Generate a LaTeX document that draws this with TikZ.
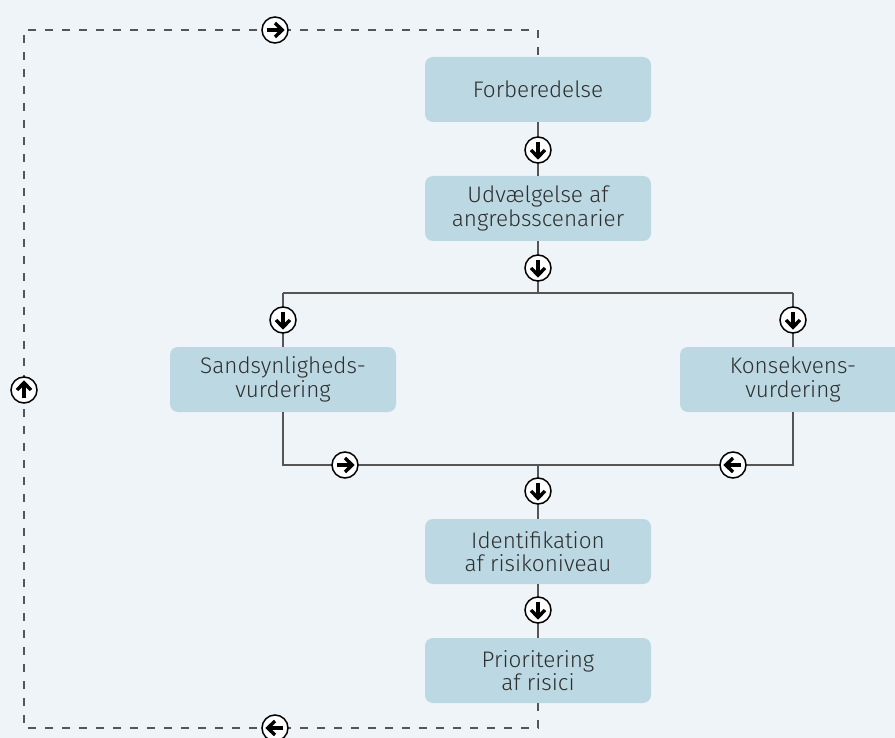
\documentclass[tikz,border=0pt]{standalone}
\usepackage{fontspec}
\setmainfont{Fira Sans}[UprightFont={* Light}]
\definecolor{bg}{HTML}{EFF4F8}
\definecolor{boxc}{HTML}{BCD8E2}
\definecolor{txt}{HTML}{2E2E2E}
\definecolor{ln}{HTML}{555555}
\tikzset{
  stepbox/.style={rectangle, rounded corners=8pt, fill=boxc, minimum width=226pt, minimum height=65pt, align=center, text=txt, font=\fontsize{22.5}{23.5}\selectfont, inner sep=0pt},
  conn/.style={draw=ln, line width=1.2pt},
  loopline/.style={draw=ln, line width=1.1pt, dash pattern=on 8pt off 9pt},
  circ/.style={circle, draw=black, fill=white, line width=1.5pt, minimum size=26pt, inner sep=0pt},
  pics/arrowsym/.style={code={
    \draw[line width=3.4pt, rotate=#1] (-8,0) -- (6.5,0);
    \draw[line width=3.4pt, rotate=#1, line join=miter, line cap=butt] (0,-7) -- (7.2,0) -- (0,7);
  }}
}
\begin{document}
\begin{tikzpicture}[x=1pt, y=-1pt]
\fill[bg] (0,0) rectangle (895,738);
\useasboundingbox (0,0) rectangle (895,738);
\clip (0,0) rectangle (895,738);

% boxes
\node[stepbox] (f) at (538,89.5) {Forberedelse};
\node[stepbox] (u) at (538,208.5) {Udvælgelse af\\angrebsscenarier};
\node[stepbox] (s) at (283,379.5) {Sandsynligheds-\\vurdering};
\node[stepbox] (k) at (793,379.5) {Konsekvens-\\vurdering};
\node[stepbox] (i) at (538,551.5) {Identifikation\\af risikoniveau};
\node[stepbox] (p) at (538,670.5) {Prioritering\\af risici};

% coordinates
\coordinate (split) at (538,293);
\coordinate (sl) at (283,293);
\coordinate (sr) at (793,293);
\coordinate (ml) at (283,465);
\coordinate (mr) at (793,465);
\coordinate (merge) at (538,465);
\coordinate (tr) at (538,30);
\coordinate (tl) at (24,30);
\coordinate (bl) at (24,728);
\coordinate (br) at (538,728);

% connectors
\draw[conn] (f) -- (u);
\draw[conn] (u) -- (split);
\draw[conn] (sl) -- (sr);
\draw[conn] (sl) -- (s);
\draw[conn] (sr) -- (k);
\draw[conn] (s) -- (ml) -- (mr) -- (k);
\draw[conn] (merge) -- (i);
\draw[conn] (i) -- (p);

% feedback loop
\draw[loopline] (p.south) -- (br) -- (bl) -- (tl) -- (tr) -- (f.north);

% arrow circles
\node[circ] (a1) at (538,150) {}; \pic at (a1) {arrowsym=-90};
\node[circ] (a2) at (538,268) {}; \pic at (a2) {arrowsym=-90};
\node[circ] (a3) at (283,320) {}; \pic at (a3) {arrowsym=-90};
\node[circ] (a4) at (793,320) {}; \pic at (a4) {arrowsym=-90};
\node[circ] (a5) at (345,465) {}; \pic at (a5) {arrowsym=0};
\node[circ] (a6) at (733,465) {}; \pic at (a6) {arrowsym=180};
\node[circ] (a7) at (538,491) {}; \pic at (a7) {arrowsym=-90};
\node[circ] (a8) at (538,610) {}; \pic at (a8) {arrowsym=-90};
\node[circ] (a9) at (275,30) {}; \pic at (a9) {arrowsym=0};
\node[circ] (a10) at (24,390) {}; \pic at (a10) {arrowsym=90};
\node[circ] (a11) at (275,728) {}; \pic at (a11) {arrowsym=180};
\end{tikzpicture}
\end{document}
